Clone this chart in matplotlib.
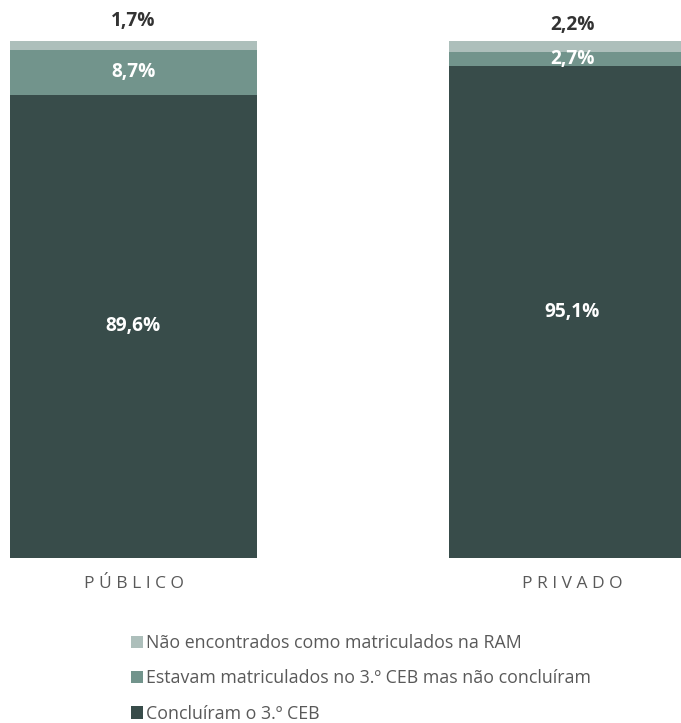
import matplotlib
matplotlib.use("Agg")
import matplotlib.pyplot as plt
from matplotlib.patches import Patch

categories = ["PÚBLICO", "PRIVADO"]
series_names = ["Concluíram o 3.º CEB",
                "Estavam matriculados no 3.º CEB mas não concluíram",
                "Não encontrados como matriculados na RAM"]
concluiram = [89.6, 95.1]
nao_concluiram = [8.7, 2.7]
nao_encontrados = [1.7, 2.2]
colors = ["#384c4a", "#72948c", "#adbfbb"]

W, H = 681, 723
fig = plt.figure(figsize=(W/100, H/100), dpi=100)
ax = fig.add_axes([0, 1-558/H, 1, (558-41)/H])
x = [0, 1]
width = 247/439
ax.set_xlim(-133.5/439, (681-133.5)/439)
ax.set_ylim(0, 100)

series = [concluiram, nao_concluiram, nao_encontrados]
bottoms = [0, 0]
for vals, col in zip(series, colors):
    ax.bar(x, vals, width=width, bottom=bottoms, color=col, edgecolor="none")
    bottoms = [b + v for b, v in zip(bottoms, vals)]

fmt = lambda v: f"{v:.1f}%".replace(".", ",")
font = "Open Sans"
fs = 13.8
for i in range(2):
    ax.text(x[i], concluiram[i]/2, fmt(concluiram[i]), ha="center", va="center",
            color="white", fontsize=fs, fontweight="bold", family=font)
    ax.text(x[i], concluiram[i] + nao_concluiram[i]/2, fmt(nao_concluiram[i]), ha="center", va="center",
            color="white", fontsize=fs, fontweight="bold", family=font)
ax.text(x[0], 103.8, fmt(nao_encontrados[0]), ha="center", va="center",
        color="#333333", fontsize=fs, fontweight="bold", family=font, clip_on=False)
ax.text(x[1], 103.1, fmt(nao_encontrados[1]), ha="center", va="center",
        color="#333333", fontsize=fs, fontweight="bold", family=font, clip_on=False)

ax.set_xticks(x)
ax.set_xticklabels([" ".join(c) for c in categories], family=font, fontsize=12.5, color="#595959")
ax.tick_params(axis="x", length=0, pad=13)
ax.set_yticks([])
for s in ax.spines.values():
    s.set_visible(False)

handles = [Patch(facecolor=c, edgecolor="none") for c in colors[::-1]]
fig.legend(handles, series_names[::-1], loc="upper left", bbox_to_anchor=(131/W, 1-634/H),
           frameon=False, handlelength=0.7, handleheight=0.7, handletextpad=0.15,
           labelspacing=0.98, prop={"family": font, "size": 12.8}, labelcolor="#595959",
           borderaxespad=0, borderpad=0)

fig.savefig("out.png", dpi=100)
